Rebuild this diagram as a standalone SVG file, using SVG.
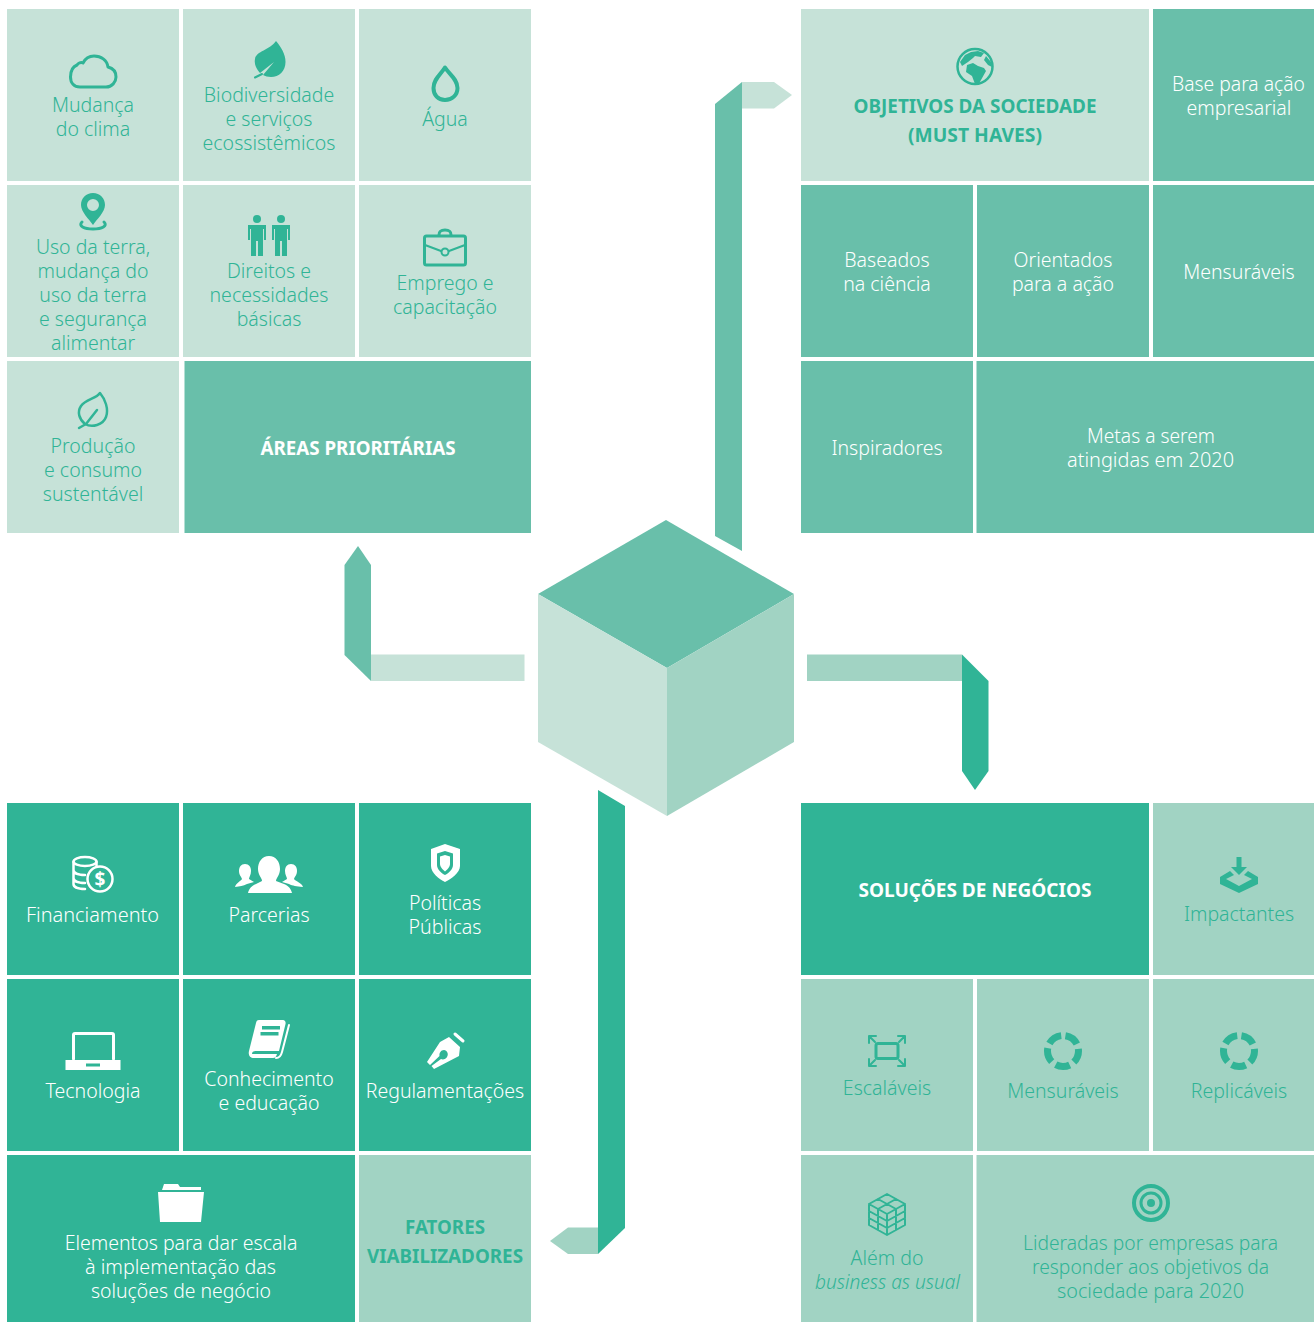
<svg xmlns="http://www.w3.org/2000/svg" xmlns:xlink="http://www.w3.org/1999/xlink" width="1314" height="1322" viewBox="0 0 1314 1322">
<style>
text{font-family:"Noto Sans","Open Sans","DejaVu Sans",sans-serif;font-size:19.500px;font-weight:300;text-anchor:middle}
.b{font-weight:700;font-size:20px}
.i{font-style:italic}
.tg{fill:#30B496}
.tw{fill:#fff}
.c1{fill:#C6E2D8}
.c2{fill:#69BFAA}
.c3{fill:#30B496}
.c4{fill:#A1D3C3}
.ig{fill:#30B496}
.iw{fill:#fff}
.sg{fill:none;stroke:#30B496;stroke-width:3;stroke-linejoin:round;stroke-linecap:round}
.sw{fill:none;stroke:#fff;stroke-width:3;stroke-linejoin:round;stroke-linecap:round}
</style>
<defs>
<g id="ring"><circle r="15.500" fill="none" stroke="#30B496" stroke-width="7" stroke-dasharray="14.480 5" stroke-dashoffset="-2.500" transform="rotate(-90)"/></g>
<g id="person"><circle cx="0" cy="-12" r="4"/><path d="M-9 -6H9V9H7V-2H6V25H1V10H-1V25H-6V-2H-7V9H-9Z"/></g>
</defs>
<rect width="1314" height="1322" fill="#fff"/>

<g id="connectors">
<g id="conn-top"><path class="c2" d="M715 104L742 82V551L715 536Z"/><path class="c1" d="M742 82H774L792 95L774 108.500H742Z"/></g>
<g id="conn-left"><path class="c1" d="M371 654.500H524.500V681H371Z"/><path class="c2" d="M358 546L371 565V681L344.500 655V565Z"/></g>
<g id="conn-right"><path class="c4" d="M807 654.500H962V681H807Z"/><path class="c3" d="M962 654.500L988.500 681V771L975 790L962 771Z"/></g>
<g id="conn-bottom"><path class="c3" d="M598 790L625 806V1228L598 1254Z"/><path class="c4" d="M598 1227.500H568L550 1241L568 1254H598Z"/></g>
</g>

<g id="cube">
<path class="c2" d="M666 520L794 594L667 668L538 594Z"/>
<path class="c1" d="M538 594L667 668V816L538 742Z"/>
<path class="c4" d="M794 594V742L667 816V668Z"/>
</g>

<g id="n-clima"><rect class="c1" x="7" y="9" width="172" height="172"/>
<path class="sg" d="M80 87H106C112 87 116 82 116 77C116 71 112 68 108 67C107 60 101 56 94 56C89 56 85 59 83 63C81 62 78 63 77 65C72 67 70.500 72 70.500 77C70.500 83 74 87 80 87Z"/>
<text class="tg" x="93" y="112">Mudança</text><text class="tg" x="93" y="136">do clima</text></g>
<g id="n-bio"><rect class="c1" x="183" y="9" width="172" height="172"/>
<path class="ig" d="M276 41C281 47 285.500 54 285.500 62C285.500 71 279 77 271 77C268 77 265 76 263 75L274 62L260 73C256 68 254 64 255 59C256 51 270 50 276 41Z"/><path class="sg" style="stroke-width:2" d="M255 77.500L262 74"/>
<text class="tg" x="269" y="102">Biodiversidade</text><text class="tg" x="269" y="126">e serviços</text><text class="tg" x="269" y="150">ecossistêmicos</text></g>
<g id="n-agua"><rect class="c1" x="359" y="9" width="172" height="172"/>
<path class="sg" style="stroke-width:4" d="M445 67.500C441 74 433.500 79 433.500 88C433.500 95 438 100 445 100C452 100 457.500 95 457.500 88C457.500 79 449 74 445 67.500Z"/>
<text class="tg" x="445" y="126">Água</text></g>
<g id="n-terra"><rect class="c1" x="7" y="185" width="172" height="172"/>
<path class="ig" fill-rule="evenodd" d="M93 193C100 193 105 198 105 205C105 212 97 219 93 225C89 219 81 212 81 205C81 198 86 193 93 193ZM93 199A6 6 0 1 0 93 211A6 6 0 1 0 93 199Z"/>
<path class="sg" d="M82 222C78 226 84 229 93 229C102 229 108 226 104 222"/>
<text class="tg" x="93" y="254">Uso da terra,</text><text class="tg" x="93" y="278">mudança do</text><text class="tg" x="93" y="302">uso da terra</text><text class="tg" x="93" y="326">e segurança</text><text class="tg" x="93" y="350">alimentar</text></g>
<g id="n-direitos"><rect class="c1" x="183" y="185" width="172" height="172"/>
<use xlink:href="#person" href="#person" class="ig" x="257" y="231"/><use xlink:href="#person" href="#person" class="ig" x="281" y="231"/>
<text class="tg" x="269" y="278">Direitos e</text><text class="tg" x="269" y="302">necessidades</text><text class="tg" x="269" y="326">básicas</text></g>
<g id="n-emprego"><rect class="c1" x="359" y="185" width="172" height="172"/>
<rect class="sg" x="424.500" y="236" width="41" height="29" rx="2"/><path class="sg" d="M439 235C439 231 441 230 445 230C449 230 451 231 451 235"/><path class="sg" style="stroke-width:2" d="M425 245L441 251M449 251L465 245"/><circle cx="445" cy="252" r="3.500" fill="none" stroke="#30B496" stroke-width="2"/>
<text class="tg" x="445" y="290">Emprego e</text><text class="tg" x="445" y="314">capacitação</text></g>
<g id="n-producao"><rect class="c1" x="7" y="361" width="172" height="172"/>
<path class="sg" style="stroke-width:2.500" d="M100 393C96 399 86 399 81 406C77 412 79 419 85 424C92 428 103 425 106 417C109 409 105 399 100 393Z"/><path class="sg" style="stroke-width:2.500" d="M79 428L86 424L97 410"/>
<text class="tg" x="93" y="453">Produção</text><text class="tg" x="93" y="477">e consumo</text><text class="tg" x="93" y="501">sustentável</text></g>
<g id="n-areas"><rect class="c2" x="184.500" y="361" width="346.500" height="172"/><text class="tw b" x="358" y="455" textLength="195" lengthAdjust="spacingAndGlyphs">ÁREAS PRIORITÁRIAS</text></g>

<g id="n-objetivos"><rect class="c1" x="801" y="9" width="348" height="172"/>
<circle cx="975" cy="66.500" r="17.500" fill="none" stroke="#30B496" stroke-width="2.500"/>
<path class="ig" d="M971 52L978 51L984 53L981 57L975 56L973 58L968 62L962 66L960 62L965 55ZM967 65L973 63L978 66L984 68L986 71L981 80L978 85L975 84L972 76L966 72ZM986 56L991 62L992 67L988 65L984 60Z"/>
<text class="tg b" x="975" y="113" textLength="243" lengthAdjust="spacingAndGlyphs">OBJETIVOS DA SOCIEDADE</text><text class="tg b" x="975" y="142" textLength="134" lengthAdjust="spacingAndGlyphs">(MUST HAVES)</text></g>
<g id="n-base"><rect class="c2" x="1153" y="9" width="161" height="172"/><text class="tw" x="1238.500" y="91" textLength="133" lengthAdjust="spacingAndGlyphs">Base para ação</text><text class="tw" x="1239" y="115">empresarial</text></g>
<g id="n-baseados"><rect class="c2" x="801" y="185" width="172" height="172"/><text class="tw" x="887" y="267">Baseados</text><text class="tw" x="887" y="291">na ciência</text></g>
<g id="n-orientados"><rect class="c2" x="977" y="185" width="172" height="172"/><text class="tw" x="1063" y="267">Orientados</text><text class="tw" x="1063" y="291">para a ação</text></g>
<g id="n-mens1"><rect class="c2" x="1153" y="185" width="161" height="172"/><text class="tw" x="1239" y="279">Mensuráveis</text></g>
<g id="n-insp"><rect class="c2" x="801" y="361" width="172" height="172"/><text class="tw" x="887" y="455">Inspiradores</text></g>
<g id="n-metas"><rect class="c2" x="976.500" y="361" width="337.500" height="172"/><text class="tw" x="1151" y="443" textLength="128" lengthAdjust="spacingAndGlyphs">Metas a serem</text><text class="tw" x="1150.500" y="467" textLength="167" lengthAdjust="spacingAndGlyphs">atingidas em 2020</text></g>

<g id="n-fin"><rect class="c3" x="7" y="803" width="172" height="172"/>
<g class="sw" style="stroke-width:2.500"><ellipse cx="85" cy="861.500" rx="11.500" ry="4.500"/><path d="M73.500 862V884C73.500 887 78 889 85 889M73.500 870C73.500 873 78 875 85 875M73.500 878C73.500 881 78 883 85 883M96.500 862V868"/></g>
<circle cx="100" cy="879" r="12.500" fill="#30B496" stroke="#fff" stroke-width="2.500"/><text x="100" y="886" class="tw b" style="font-size:19px">$</text>
<text class="tw" x="92.500" y="922" textLength="133" lengthAdjust="spacingAndGlyphs">Financiamento</text></g>
<g id="n-parc"><rect class="c3" x="183" y="803" width="172" height="172"/>
<path class="iw" d="M245 864C249 864 251 867 251 871C251 875 249 877 249 879L254 882L247 884C243 886 240 886 235 887C236 883 241 881 242 879C241 876 239 875 239 871C239 867 241 864 245 864ZM291 864C287 864 285 867 285 871C285 875 287 877 287 879L282 882L289 884C293 886 296 886 303 887C302 883 295 881 294 879C295 876 297 875 297 871C297 867 295 864 291 864Z"/>
<path class="iw" d="M269 856C276 856 280 862 280 869C280 875 276 878 276 881L284 884C289 886 291 889 292 893H248C249 889 251 886 256 884L262 881C262 878 258 875 258 869C258 862 262 856 269 856Z"/>
<text class="tw" x="269" y="922">Parcerias</text></g>
<g id="n-pol"><rect class="c3" x="359" y="803" width="172" height="172"/>
<path class="iw" fill-rule="evenodd" d="M445 844L460 849V866C460 873 451 879 445 882C439 879 431 873 431 866V849ZM445 851L437 853.500V865C437 869 441 873 445 875C449 873 453 869 453 865V853.500Z"/><path class="iw" d="M445 855L450 856.500V864C450 867 447 870 445 871.500C443 870 440 867 440 864V856.500Z"/>
<text class="tw" x="445" y="910">Políticas</text><text class="tw" x="445" y="934">Públicas</text></g>
<g id="n-tec"><rect class="c3" x="7" y="979" width="172" height="172"/>
<path class="sw" d="M73.500 1059V1035C73.500 1034 74 1033.500 75 1033.500H112C113 1033.500 113.500 1034 113.500 1035V1059"/>
<path class="iw" d="M65.500 1060H120.500V1070H65.500Z"/><rect x="86" y="1063.500" width="14" height="3" fill="#30B496"/>
<text class="tw" x="93" y="1098">Tecnologia</text></g>
<g id="n-con"><rect class="c3" x="183" y="979" width="172" height="172"/>
<path class="iw" d="M259 1020H283C285 1020 286 1022 285.500 1024L279 1051H256C253 1051 252 1052 252 1054H277C276 1057 275 1058 273 1058H254C250 1058 248 1055 249 1051L256 1023C256.500 1021 257 1020 259 1020Z"/><path class="sw" style="stroke-width:2" d="M289 1025L282 1052C281 1056 279 1058 276 1058"/>
<rect x="262" y="1026" width="18" height="3.500" fill="#30B496"/><rect x="260.500" y="1032" width="18" height="3.500" fill="#30B496"/>
<text class="tw" x="269" y="1086">Conhecimento</text><text class="tw" x="269" y="1110">e educação</text></g>
<g id="n-reg"><rect class="c3" x="359" y="979" width="172" height="172"/>
<path class="iw" fill-rule="evenodd" d="M449 1037L460 1047L459 1056L434 1069L431.500 1066L441 1059C443 1060 446 1059 447 1057C449 1054 447 1050 444 1050C441 1050 439 1053 439.500 1056L430 1065L427 1062L440 1042Z"/><path class="sw" d="M455 1034L463 1041"/>
<text class="tw" x="445" y="1098">Regulamentações</text></g>
<g id="n-elem"><rect class="c3" x="7" y="1155" width="348" height="167"/>
<path class="iw" d="M162 1190L164 1184H178L180 1187H201V1190ZM158 1192H204L201 1222H160Z"/>
<text class="tw" x="181" y="1250">Elementos para dar escala</text><text class="tw" x="180.500" y="1274" textLength="191" lengthAdjust="spacingAndGlyphs">à implementação das</text><text class="tw" x="181" y="1298" textLength="180" lengthAdjust="spacingAndGlyphs">soluções de negócio</text></g>
<g id="n-fat"><rect class="c4" x="359" y="1155" width="172" height="167"/><text class="tg b" x="445" y="1234" textLength="80" lengthAdjust="spacingAndGlyphs">FATORES</text><text class="tg b" x="445" y="1263" textLength="156" lengthAdjust="spacingAndGlyphs">VIABILIZADORES</text></g>

<g id="n-sol"><rect class="c3" x="801" y="803" width="348" height="172"/><text class="tw b" x="975" y="897" textLength="233" lengthAdjust="spacingAndGlyphs">SOLUÇÕES DE NEGÓCIOS</text></g>
<g id="n-imp"><rect class="c4" x="1153" y="803" width="161" height="172"/>
<path class="ig" d="M1236.500 857H1241.500V867H1247L1239 875L1231 867H1236.500Z"/><path class="ig" d="M1230 871L1234 875L1226 879L1239 886L1252 879L1244 875L1248 871L1258 877V884L1239 893L1220 884V877Z"/>
<text class="tg" x="1239" y="921">Impactantes</text></g>
<g id="n-esc"><rect class="c4" x="801" y="979" width="172" height="172"/>
<rect class="sg" x="876" y="1043.500" width="22" height="15" rx="2"/>
<path class="sg" style="stroke-width:2" d="M869 1036H876M869 1036V1043M869 1036L875 1042M905 1036H898M905 1036V1043M905 1036L899 1042M869 1066H876M869 1066V1059M869 1066L875 1060M905 1066H898M905 1066V1059M905 1066L899 1060"/>
<text class="tg" x="887" y="1095">Escaláveis</text></g>
<g id="n-mens2"><rect class="c4" x="977" y="979" width="172" height="172"/><use xlink:href="#ring" href="#ring" x="1063" y="1051"/><text class="tg" x="1063" y="1098">Mensuráveis</text></g>
<g id="n-rep"><rect class="c4" x="1153" y="979" width="161" height="172"/><use xlink:href="#ring" href="#ring" x="1239" y="1051"/><text class="tg" x="1239" y="1098">Replicáveis</text></g>
<g id="n-alem"><rect class="c4" x="801" y="1155" width="172" height="167"/>
<path class="sg" style="stroke-width:2" d="M887 1194L905 1204V1225L887 1235L869 1225V1204ZM869 1204L887 1214L905 1204M887 1214V1235M878 1199L896 1209M896 1199L878 1209M878 1209V1230M896 1209V1230M869 1211L887 1221L905 1211M869 1218L887 1228L905 1218"/>
<text class="tg" x="887" y="1265">Além do</text><text class="tg i" x="887.500" y="1289" textLength="145" lengthAdjust="spacingAndGlyphs">business as usual</text></g>
<g id="n-lid"><rect class="c4" x="976.500" y="1155" width="337.500" height="167"/>
<circle cx="1151" cy="1203" r="17" fill="none" stroke="#30B496" stroke-width="4"/><circle cx="1151" cy="1203" r="10" fill="none" stroke="#30B496" stroke-width="3"/><circle cx="1151" cy="1203" r="4" fill="#30B496"/>
<text class="tg" x="1150.500" y="1250" textLength="255" lengthAdjust="spacingAndGlyphs">Lideradas por empresas para</text><text class="tg" x="1150.500" y="1274" textLength="237" lengthAdjust="spacingAndGlyphs">responder aos objetivos da</text><text class="tg" x="1150.500" y="1298" textLength="187" lengthAdjust="spacingAndGlyphs">sociedade para 2020</text></g>
</svg>
